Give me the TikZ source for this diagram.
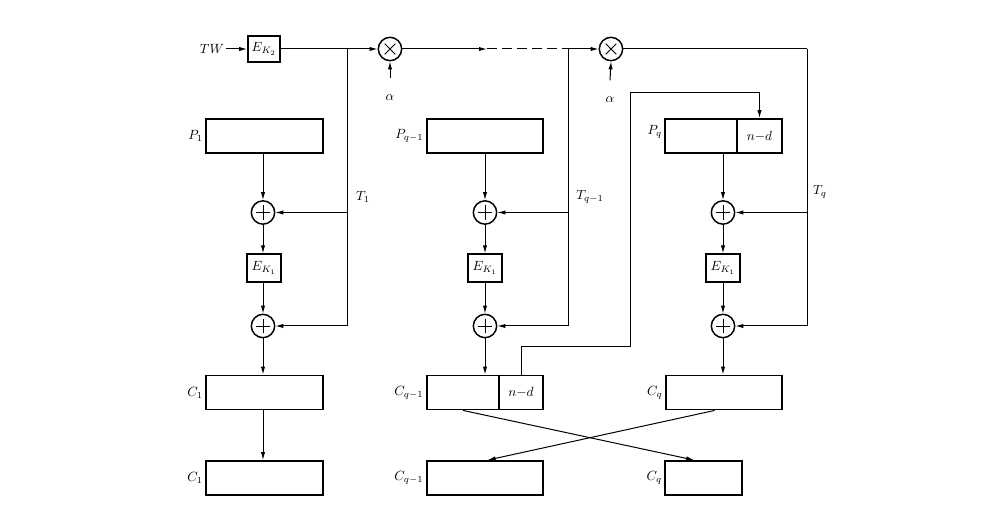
\documentclass[tikz,border=0pt]{standalone}
\usetikzlibrary{arrows.meta}
\begin{document}
\begin{tikzpicture}[x=0.75pt,y=-0.75pt,
 box/.style={draw,line width=1.4pt,inner sep=0pt,minimum height=25.5pt},
 wide/.style={box,minimum width=87.5pt},
 ebox/.style={box,minimum width=25pt,minimum height=20.5pt},
 part/.style={inner sep=0pt,minimum height=25.5pt},
 divider/.style={line width=1.2pt},
 op/.style={draw,circle,line width=1.1pt,minimum size=17.5pt,inner sep=0pt},
 plus/.style={op,path picture={\draw[line width=0.7pt] ([xshift=-5.5pt]path picture bounding box.center) -- ([xshift=5.5pt]path picture bounding box.center) ([yshift=-5.5pt]path picture bounding box.center) -- ([yshift=5.5pt]path picture bounding box.center);}},
 times/.style={op,path picture={\draw[line width=0.7pt] ([shift={(-4pt,-4pt)}]path picture bounding box.center) -- ([shift={(4pt,4pt)}]path picture bounding box.center) ([shift={(-4pt,4pt)}]path picture bounding box.center) -- ([shift={(4pt,-4pt)}]path picture bounding box.center);}},
 ln/.style={line width=0.75pt},
 arr/.style={ln,-{Latex[length=6pt,width=3.2pt]}},
 lab/.style={inner sep=1.5pt}]
\useasboundingbox (0,0) rectangle (1001,506);
% top row
\node[lab] (tw) at (212,49) {$TW$};
\node[ebox,minimum width=24pt,minimum height=19pt] (ek2) at (264,49) {$E_{K_2}$};
\node[times] (m1) at (390,49) {};
\node[times] (m2) at (611,49) {};
\node (al1) at (390,98) {$\alpha$};
\node (al2) at (610,100) {$\alpha$};
\coordinate (b1) at (347,49);
\coordinate (b2) at (568,49);
\coordinate (d0) at (487,49);
\coordinate (r3) at (807,49);
\draw[arr] (tw.east |- ek2) -- (ek2.west);
\draw[ln] (ek2.east) -- (b1);
\draw[arr] (b1) -- (m1.west);
\draw[arr] (m1.east) -- (d0);
\draw[ln,dash pattern=on 7.5pt off 3.8pt] (d0) -- (b2);
\draw[arr] (b2) -- (m2.west);
\draw[ln] (m2.east) -- (r3);
\draw[arr] ([yshift=9pt]al1.north) -- (m1.south);
\draw[arr] ([yshift=9pt]al2.north) -- (m2.south);
% column 1
\node[wide] (p1) at (264.5,136) {};
\node[plus] (x11) at (263,212.5) {};
\node[ebox] (e1) at (264,268) {$E_{K_1}$};
\node[plus] (x12) at (263,326) {};
\node[wide] (c1) at (264.5,392.5) {};
\node[wide] (c1b) at (264.5,478) {};
\node[lab,anchor=east] at (p1.west) {$P_1$};
\node[lab,anchor=east] at (c1.west) {$C_1$};
\node[lab,anchor=east] at (c1b.west) {$C_1$};
\draw[arr] (p1.south -| x11) -- (x11.north);
\draw[arr] (x11.south) -- (e1.north -| x11);
\draw[arr] (e1.south -| x12) -- (x12.north);
\draw[arr] (x12.south) -- (c1.north -| x12);
\draw[arr] (c1.south -| x12) -- (c1b.north -| x12);
\draw[ln] (b1) -- (b1 |- x12);
\draw[arr] (b1 |- x11) -- (x11.east);
\draw[arr] (b1 |- x12) -- (x12.east);
\node[lab] at (363,197) {$T_1$};
% column 2
\node[wide] (p2) at (485,136) {};
\node[plus] (x21) at (485,212.5) {};
\node[ebox] (e2) at (485,268) {$E_{K_1}$};
\node[plus] (x22) at (485,326) {};
\node[wide] (c2) at (485,392.5) {};
\node[part,minimum width=54pt] (c2l) at (463,392.5) {};
\node[part,minimum width=33pt] (c2r) at (521,392.5) {$n{-}d$};
\draw[divider] (c2.north -| c2l.east) -- (c2.south -| c2l.east);
\node[wide] (c2b) at (485,478) {};
\node[lab,anchor=east] at (p2.west) {$P_{q-1}$};
\node[lab,anchor=east] at (c2.west) {$C_{q-1}$};
\node[lab,anchor=east] at (c2b.west) {$C_{q-1}$};
\draw[arr] (p2.south -| x21) -- (x21.north);
\draw[arr] (x21.south) -- (e2.north -| x21);
\draw[arr] (e2.south -| x22) -- (x22.north);
\draw[arr] (x22.south) -- (c2.north -| x22);
\draw[ln] (b2) -- (b2 |- x22);
\draw[arr] (b2 |- x21) -- (x21.east);
\draw[arr] (b2 |- x22) -- (x22.east);
\node[lab] at (590,197) {$T_{q-1}$};
% column 3
\node[wide] (p3) at (723.5,136) {};
\node[part,minimum width=54pt] (p3l) at (701,136) {};
\node[part,minimum width=34pt] (p3r) at (759.5,136) {$n{-}d$};
\draw[divider] (p3.north -| p3l.east) -- (p3.south -| p3l.east);
\node[plus] (x31) at (723,212.5) {};
\node[ebox] (e3) at (723,268) {$E_{K_1}$};
\node[plus] (x32) at (723,326) {};
\node[wide] (c3) at (724,392.5) {};
\node[box,minimum width=57.5pt] (c3b) at (703.5,478) {};
\node[lab,anchor=east] at ([yshift=3pt]p3.west) {$P_q$};
\node[lab,anchor=east] at (c3.west) {$C_q$};
\node[lab,anchor=east] at (c3b.west) {$C_q$};
\draw[arr] (p3.south -| x31) -- (x31.north);
\draw[arr] (x31.south) -- (e3.north -| x31);
\draw[arr] (e3.south -| x32) -- (x32.north);
\draw[arr] (x32.south) -- (c3.north -| x32);
\draw[ln] (r3) -- (r3 |- x32);
\draw[arr] (r3 |- x31) -- (x31.east);
\draw[arr] (r3 |- x32) -- (x32.east);
\node[lab] at (820,192) {$T_q$};
% feedback of n-d part
\coordinate (f1) at (c2r.north |- 0,347);
\coordinate (f2) at (630,347);
\coordinate (f3) at (630,92.5);
\coordinate (f4) at (p3r.north |- 0,92.5);
\draw[arr] (c2.north -| c2r) -- (f1) -- (f2) -- (f3) -- (f4) -- (p3.north -| p3r);
% swap
\draw[arr] (c2.south -| c2l) -- ([xshift=-7pt]c3b.north);
\draw[arr] ([xshift=-7pt]c3.south) -- ([xshift=2pt]c2b.north);
\end{tikzpicture}
\end{document}
